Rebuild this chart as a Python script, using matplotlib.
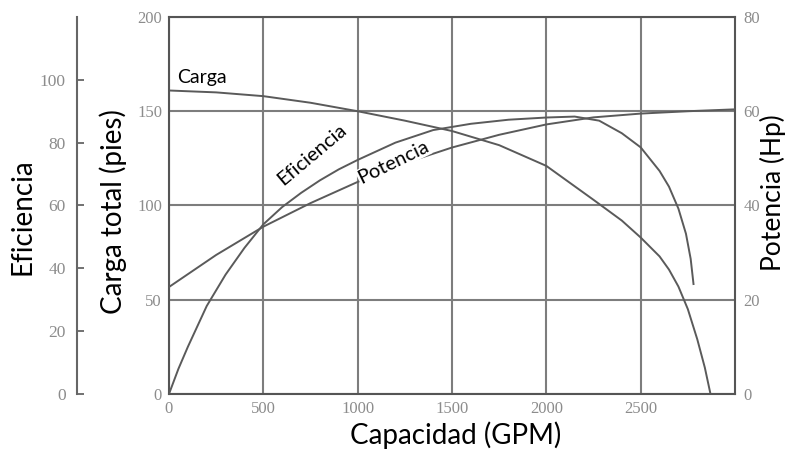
import matplotlib
matplotlib.use("Agg")
import matplotlib.pyplot as plt

# Pump performance curves: head, efficiency and power vs. capacity
carga_gpm = [0, 250, 500, 750, 1000, 1250, 1500, 1750, 2000, 2250, 2400,
             2500, 2600, 2650, 2700, 2750, 2800, 2840, 2870]
carga_pies = [161, 160, 158, 154.5, 150, 145, 139.5, 132, 121, 103, 92,
              83, 73, 66, 57, 45, 29, 14, 0]

efic_gpm = [0, 50, 100, 200, 300, 400, 500, 600, 700, 800, 900, 1000, 1200,
            1400, 1600, 1800, 2000, 2150, 2280, 2400, 2500, 2600, 2650,
            2700, 2740, 2765, 2780]
efic_pct = [0, 8, 15, 28, 38, 46.5, 54, 59.5, 64, 68, 71.5, 74.5, 80,
            84, 86, 87.3, 88, 88.3, 87, 83, 78.5, 71, 66, 59, 51, 43, 35]

pot_gpm = [0, 250, 500, 750, 1000, 1250, 1500, 1750, 2000, 2250, 2500,
           2750, 3000]
pot_hp = [22.7, 29.5, 35.5, 40.5, 45, 49, 52.3, 55, 57.2, 58.7, 59.5,
          60, 60.4]

x_ticks = [0, 500, 1000, 1500, 2000, 2500]
carga_ticks = [0, 50, 100, 150, 200]
efic_ticks = [0, 20, 40, 60, 80, 100]
pot_ticks = [0, 20, 40, 60, 80]

LINE = "#5a5a5a"
GRID = "#7d7d7d"
TICK = "#8c8c8c"
SERIF = "Liberation Serif"
SANS = "Lato"

fig = plt.figure(figsize=(7.9, 4.54), dpi=100)
ax = fig.add_axes([0.2139, 0.1322, 0.7165, 0.8304])

ax.set_xlim(0, 3000)
ax.set_ylim(0, 200)
ax.set_xticks(x_ticks)
ax.set_yticks(carga_ticks)
ax.grid(True, color=GRID, lw=1.5)
ax.set_axisbelow(True)
ax.tick_params(length=0, colors=TICK, labelsize=12, pad=5)
for lbl in ax.get_xticklabels() + ax.get_yticklabels():
    lbl.set_family(SERIF)
for sp in ax.spines.values():
    sp.set_color("#555555")
    sp.set_linewidth(1.5)

# efficiency scale on a detached spine to the far left
ax_eff = ax.twinx()
ax_eff.set_ylim(0, 120)
ax_eff.set_yticks(efic_ticks)
ax_eff.spines["left"].set_position(("axes", -0.1625))
ax_eff.spines["left"].set_visible(True)
ax_eff.spines["left"].set_color("#666666")
ax_eff.spines["left"].set_linewidth(1.5)
for side in ("right", "top", "bottom"):
    ax_eff.spines[side].set_visible(False)
ax_eff.yaxis.set_ticks_position("left")
ax_eff.yaxis.set_label_position("left")
ax_eff.tick_params(axis="y", direction="in", length=5, width=1.3,
                   color="#666666", colors=TICK, labelsize=12.5, pad=8)
for lbl in ax_eff.get_yticklabels():
    lbl.set_family(SERIF)

# power scale on the right
ax_hp = ax.twinx()
ax_hp.set_ylim(0, 80)
ax_hp.set_yticks(pot_ticks)
ax_hp.tick_params(axis="y", length=0, colors=TICK, labelsize=12, pad=6)
for lbl in ax_hp.get_yticklabels():
    lbl.set_family(SERIF)
for sp in ax_hp.spines.values():
    sp.set_visible(False)

ax.plot(carga_gpm, carga_pies, color=LINE, lw=1.4)
ax_eff.plot(efic_gpm, efic_pct, color=LINE, lw=1.4)
ax_hp.plot(pot_gpm, pot_hp, color=LINE, lw=1.4)

box = dict(facecolor="white", edgecolor="none", pad=0.5)
ax_hp.text(175, 168, "Carga", transform=ax.transData, family=SANS,
           fontsize=14, ha="center", va="center", bbox=box, zorder=5)
ax_hp.text(755, 127, "Eficiencia", transform=ax.transData, family=SANS,
           fontsize=14.5, rotation=40, ha="center", va="center",
           rotation_mode="anchor", bbox=box, zorder=5)
ax_hp.text(1190, 123, "Potencia", transform=ax.transData, family=SANS,
           fontsize=14.5, rotation=26, ha="center", va="center",
           rotation_mode="anchor", bbox=box, zorder=5)

fig.text(0.577, 0.042, "Capacidad (GPM)", family=SANS, fontsize=20,
         ha="center", va="center")
fig.text(0.143, 0.533, "Carga total (pies)", family=SANS, fontsize=20,
         rotation=90, ha="center", va="center")
fig.text(0.029, 0.522, "Eficiencia", family=SANS, fontsize=20,
         rotation=90, ha="center", va="center")
fig.text(0.978, 0.575, "Potencia (Hp)", family=SANS, fontsize=19,
         rotation=90, ha="center", va="center")

fig.savefig("out.png", dpi=100)
